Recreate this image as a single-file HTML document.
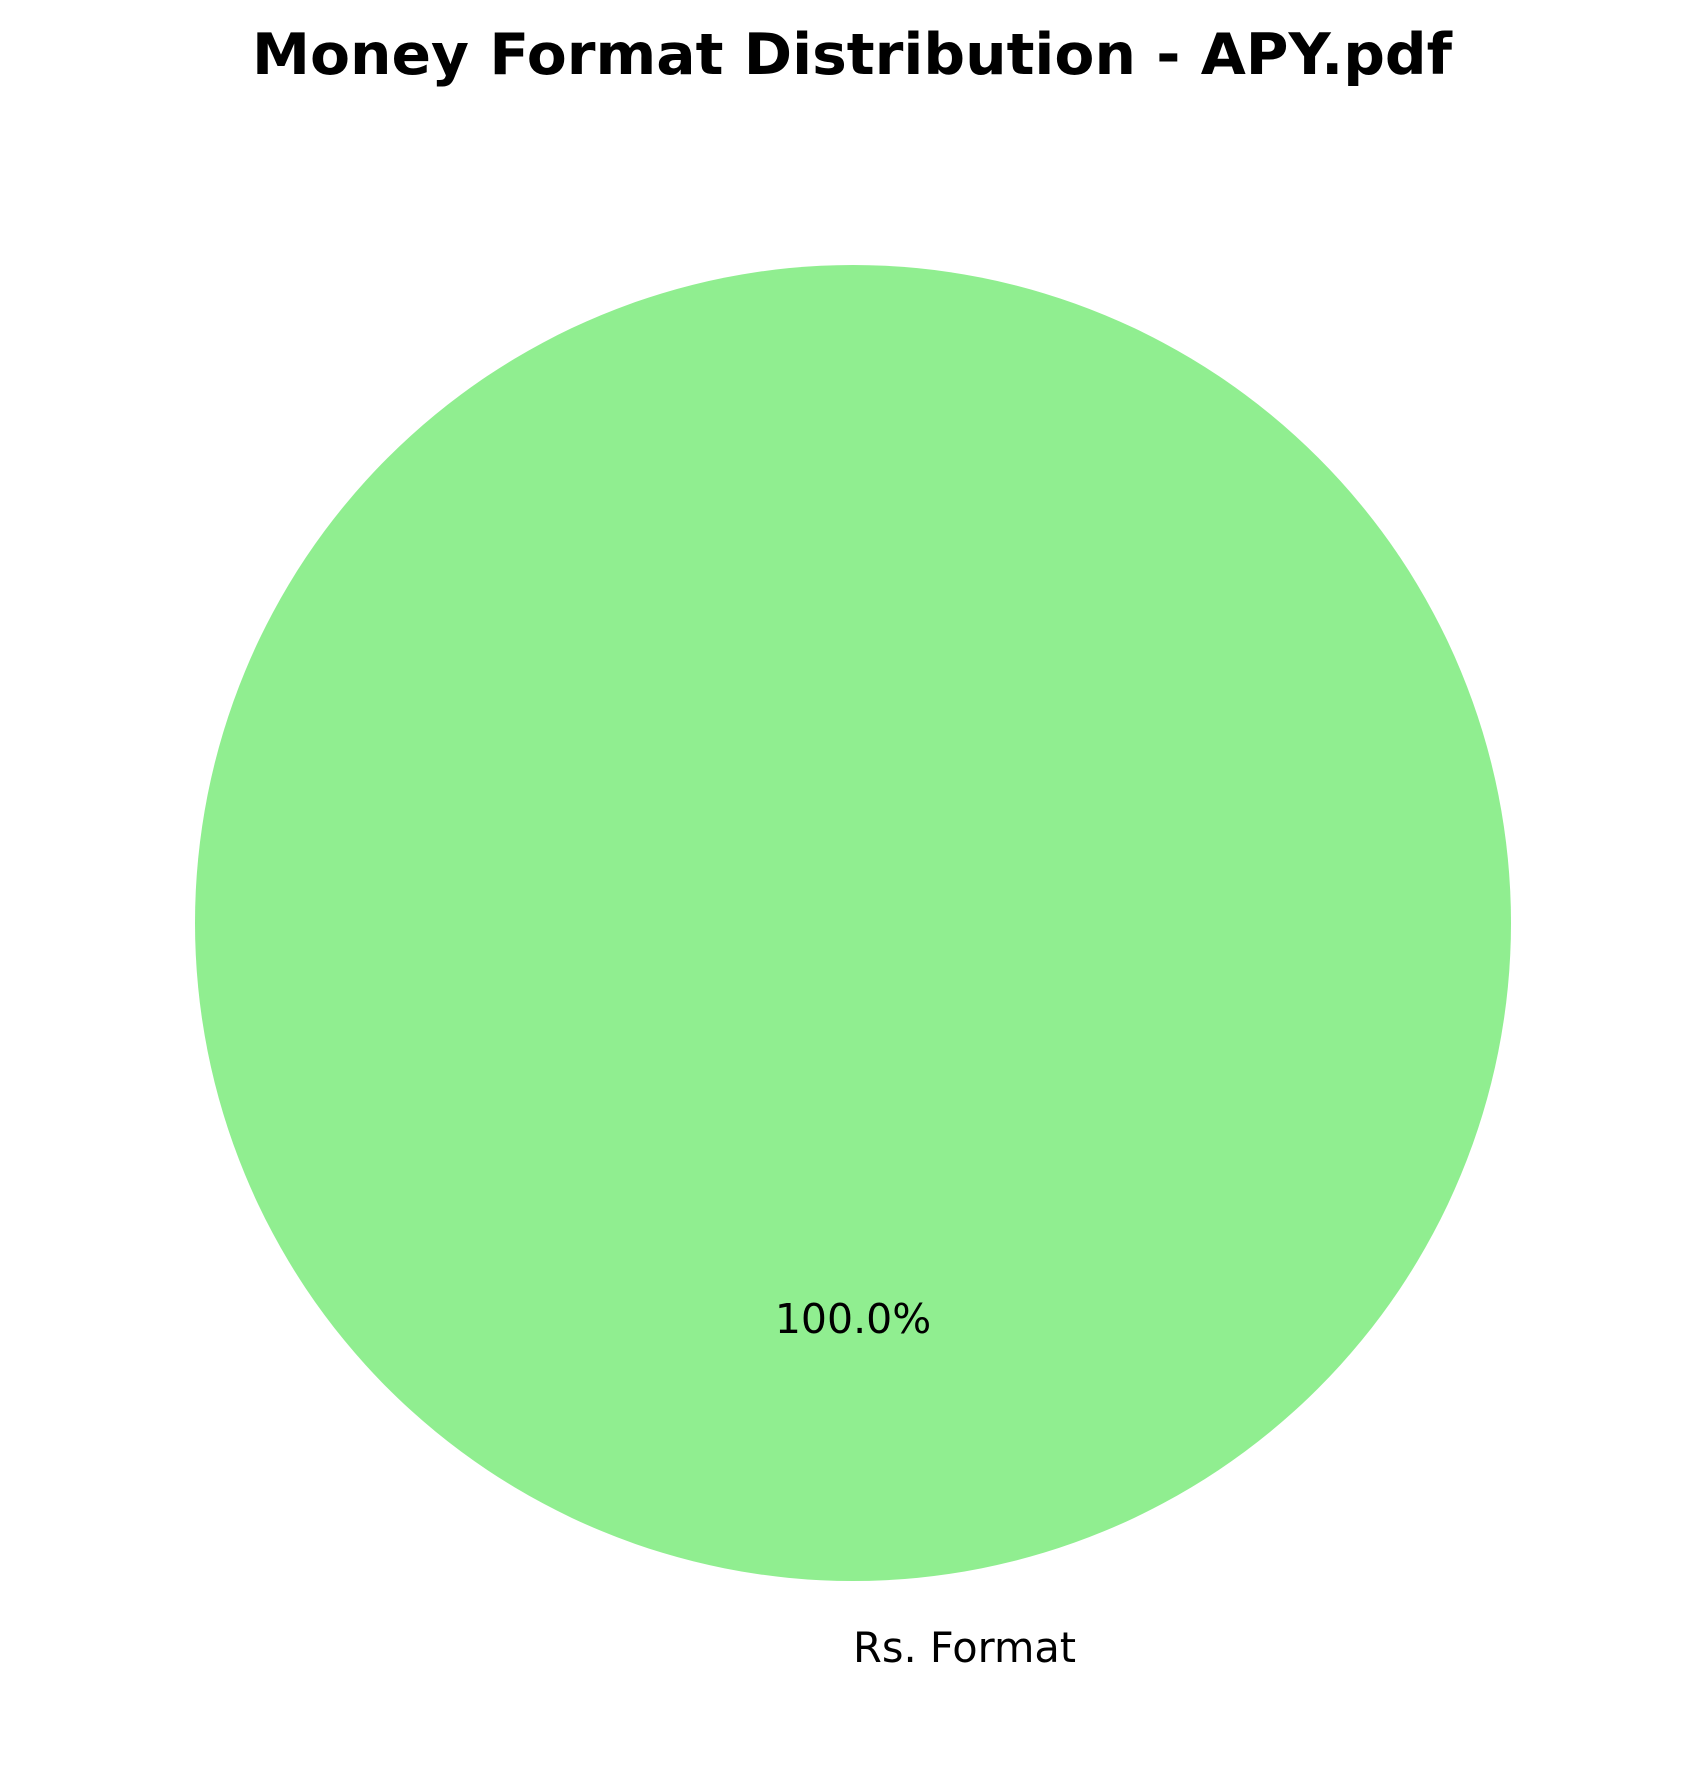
<!DOCTYPE html>
<html><head><meta charset="utf-8"><style>html,body{margin:0;padding:0;background:#fff}</style></head>
<body>
<svg width="1700" height="1770" viewBox="0 0 1700 1770" xmlns="http://www.w3.org/2000/svg" style="font-family:'DejaVu Sans','Liberation Sans',sans-serif">
<rect width="1700" height="1770" fill="#fff"/>
<text x="852" y="74" text-anchor="middle" font-size="57" font-weight="bold" textLength="1200" lengthAdjust="spacingAndGlyphs">Money Format Distribution - APY.pdf</text>
<g id="slices"></g>
</svg>
<script>
const categories = ["Rs. Format"];
const values = [1];
const colors = ["#90ee90"];
const cx = 853, cy = 923, r = 658;
const g = document.getElementById('slices');
const ns = 'http://www.w3.org/2000/svg';
const total = values.reduce((a,b)=>a+b,0);
let start = 90;
values.forEach((v,i)=>{
  const frac = v/total, sweep = frac*360;
  let el;
  if (frac >= 0.9999) {
    el = document.createElementNS(ns,'circle');
    el.setAttribute('cx',cx); el.setAttribute('cy',cy); el.setAttribute('r',r);
  } else {
    const a0 = start*Math.PI/180, a1 = (start+sweep)*Math.PI/180;
    const x0 = cx+r*Math.cos(a0), y0 = cy-r*Math.sin(a0);
    const x1 = cx+r*Math.cos(a1), y1 = cy-r*Math.sin(a1);
    el = document.createElementNS(ns,'path');
    el.setAttribute('d',`M${cx},${cy}L${x0},${y0}A${r},${r} 0 ${sweep>180?1:0} 0 ${x1},${y1}Z`);
  }
  el.setAttribute('fill',colors[i]);
  
  
  g.appendChild(el);
  const mid = (start+sweep/2)*Math.PI/180;
  const mx = Math.cos(mid), my = Math.sin(mid);
  const pt = document.createElementNS(ns,'text');
  pt.setAttribute('x', cx+0.6*r*mx);
  pt.setAttribute('y', cy-0.6*r*my+15);
  pt.setAttribute('text-anchor','middle');
  pt.setAttribute('font-size','41');
  pt.textContent = (frac*100).toFixed(1)+'%';
  
  
  g.appendChild(pt);
  const lt = document.createElementNS(ns,'text');
  lt.setAttribute('x', cx+1.1*r*mx);
  lt.setAttribute('y', cy-1.1*r*my+15);
  lt.setAttribute('text-anchor', mx >= -1e-9 ? 'start' : 'end');
  lt.setAttribute('font-size','41.5');
  lt.textContent = categories[i];
  
  
  g.appendChild(lt);
  start += sweep;
});
</script>
</body></html>
